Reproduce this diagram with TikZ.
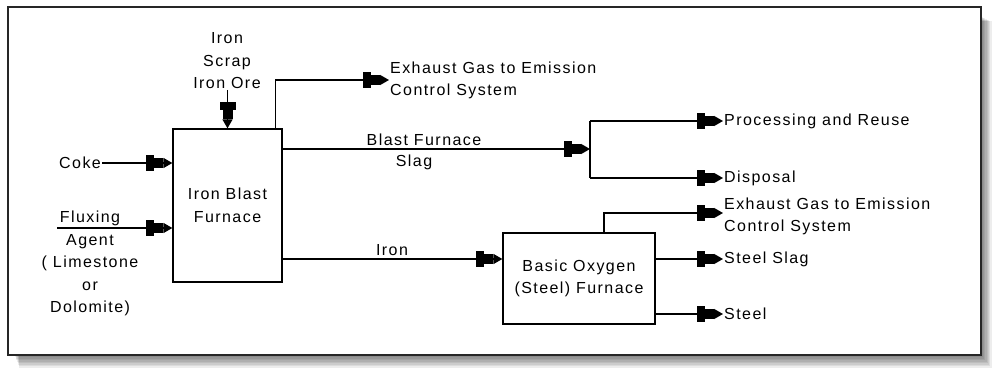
\documentclass[tikz,border=0pt]{standalone}
\usepackage{fontspec}
\setmainfont[LetterSpace=9]{Liberation Sans}
\usetikzlibrary{arrows.meta}
\tikzset{
  arr/.style={line width=1.3pt,-{Rectangle[length=8pt,width=16pt]Rectangle[length=9pt,width=10pt]Triangle[length=9pt,width=10pt]}},
  ln/.style={line width=1.3pt},
  box/.style={draw,line width=1.3pt,fill=white,align=center,inner sep=0pt,font=\fontsize{16}{22.5}\selectfont},
  txt/.style={align=center,inner sep=1pt,font=\fontsize{16}{22.5}\selectfont},
  ltxt/.style={align=left,inner sep=1pt,anchor=west,font=\fontsize{16}{22}\selectfont}
}
\begin{document}
\begin{tikzpicture}[x=1pt,y=-1pt]
\useasboundingbox (0,0) rectangle (995,374);
\fill[white] (0,0) rectangle (995,374);
% shadow
\foreach \k in {0,...,9}{
  \fill[black,opacity=0.07] (14+\k*0.6,16+\k*0.6) rectangle (980+\k*1.3,354+\k*1.5);
}
\fill[white] (8,7) rectangle (981,355);
\draw[line width=2.4pt,black!85] (8,7) rectangle (981,355);

% boxes
\node[box,minimum width=109pt,minimum height=153pt] (ibf) at (227.5,205.5) {Iron Blast\\Furnace};
\node[box,minimum width=152pt,minimum height=91pt] (bof) at (579,278.5) {Basic Oxygen\\(Steel) Furnace};

% inputs
\node[txt] (ore) at (227,61) {Iron\\Scrap\\Iron Ore};
\node[txt,anchor=west] (coke) at (58,163) {Coke};
\node[txt] (flux) at (90,263.5) {Fluxing\\Agent\\( Limestone\\or\\Dolomite)};
\coordinate (fluxs) at (57,228);

\draw[arr] (ibf.north |- 0,90) -- (ibf.north);
\draw[arr] (coke.east) -- (ibf.west |- coke.east);
\draw[arr] (fluxs) -- (ibf.west |- fluxs);

% exhaust 1
\node[ltxt] (ex1) at (389,80) {Exhaust Gas to Emission\\Control System};
\draw[arr] ([xshift=-7pt]ibf.north east) |- (ex1.west);

% slag
\coordinate (split) at (590,149);
\draw[arr] (ibf.east |- split) -- (split);
\node[txt] (bfs1) at (424,140) {Blast Furnace};
\node[txt] (bfs2) at (414,162) {Slag};
\node[ltxt] (proc) at (723,121) {Processing and Reuse};
\node[ltxt] (disp) at (723,178) {Disposal};
\draw[ln] (split |- proc.west) -- (split |- disp.west);
\draw[arr] (split |- proc.west) -- (proc.west);
\draw[arr] (split |- disp.west) -- (disp.west);

% iron
\coordinate (ironl) at (0,259);
\draw[arr] (ibf.east |- ironl) -- (bof.west |- ironl);
\node[txt] (iron) at (392,250) {Iron};

% BOF outputs
\node[ltxt] (ex2) at (723,216) {Exhaust Gas to Emission\\Control System};
\coordinate (ex2a) at (723,213);
\draw[arr] (604,233) |- (ex2a);
\node[ltxt] (sslag) at (723,259) {Steel Slag};
\node[ltxt] (steel) at (723,314) {Steel};
\draw[arr] (bof.east |- sslag.west) -- (sslag.west);
\draw[arr] (bof.east |- steel.west) -- (steel.west);
\end{tikzpicture}
\end{document}
